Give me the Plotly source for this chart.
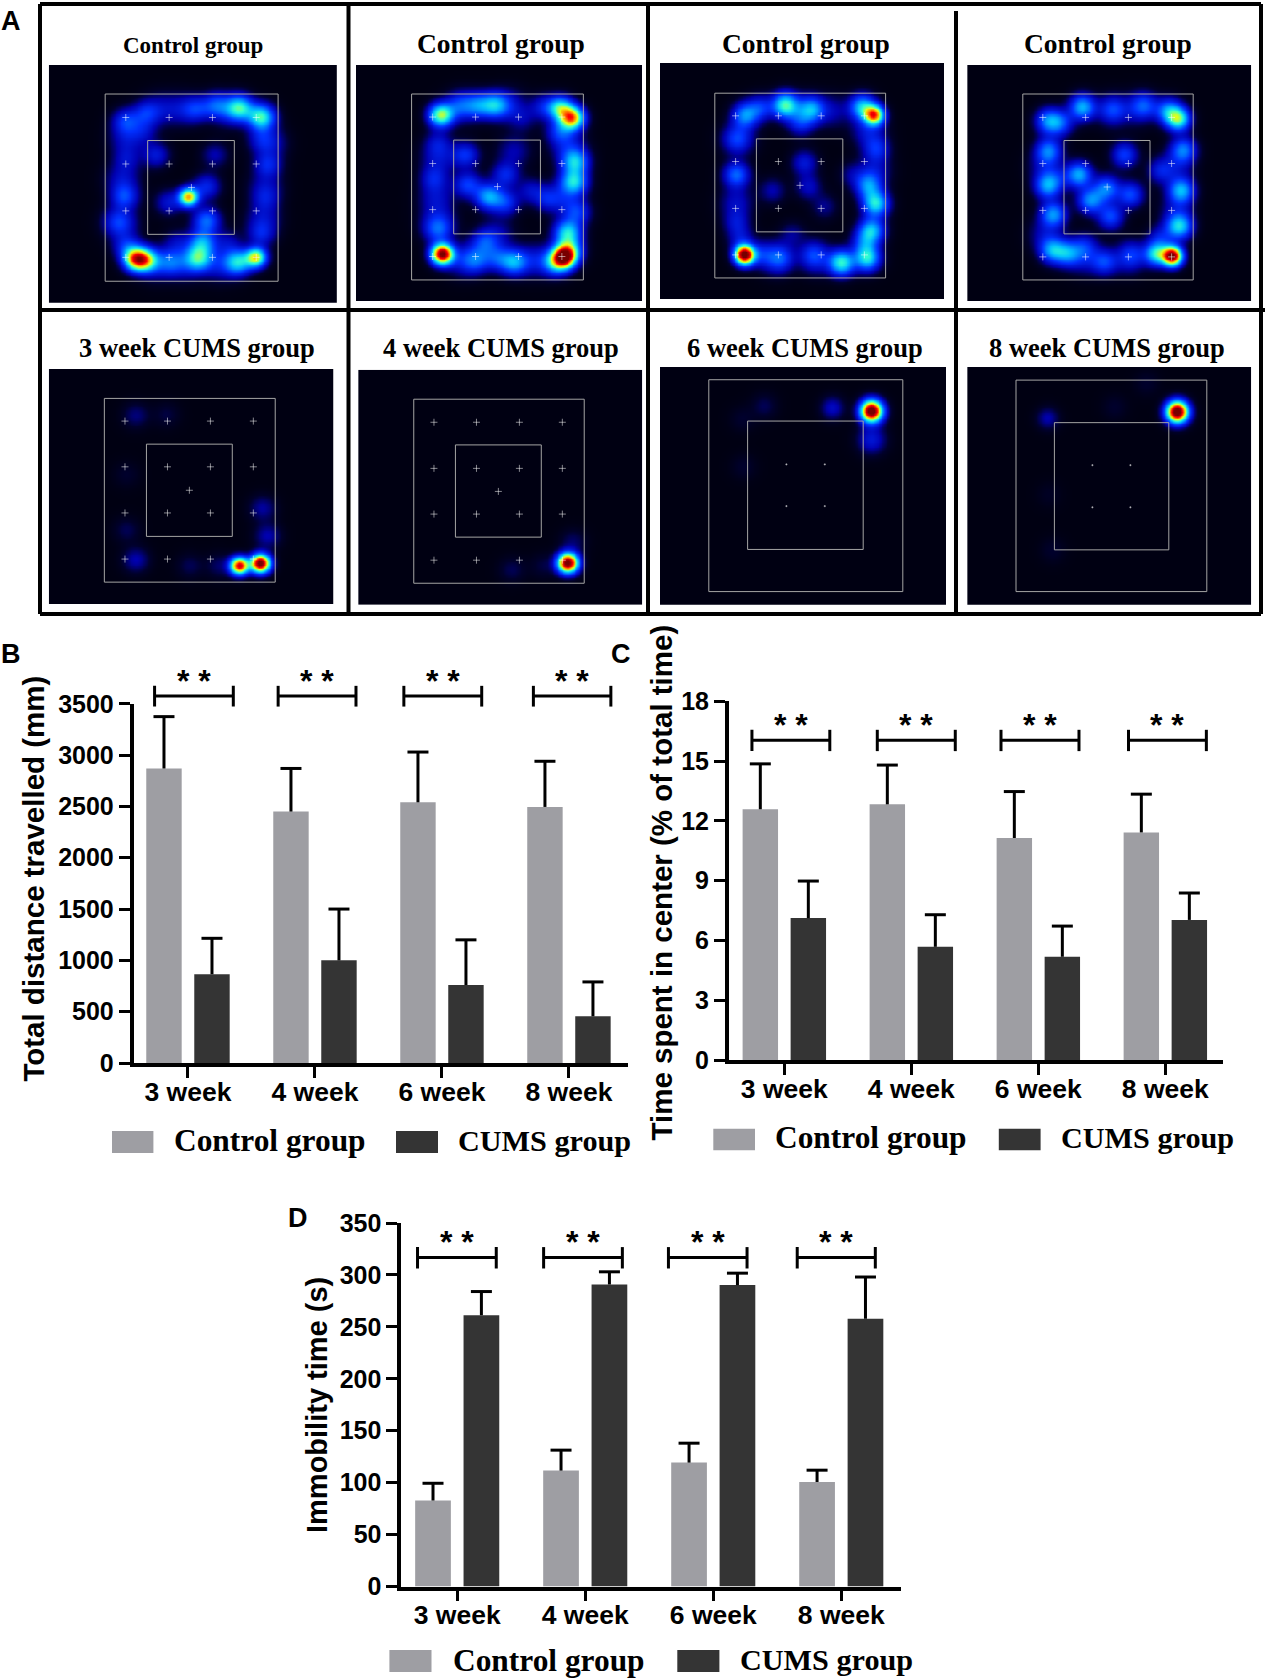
import numpy as np
import plotly.graph_objects as go

W, H = 1267, 1679
WEEKS = ["3 week", "4 week", "6 week", "8 week"]
GROUP_POS = [0, 1, 2, 3]

B_CONTROL = [2870, 2450, 2540, 2495]
B_CONTROL_TOP = [3375, 2870, 3030, 2940]
B_CUMS = [865, 1000, 760, 455]
B_CUMS_TOP = [1215, 1500, 1200, 790]
B_TICKS = [0, 500, 1000, 1500, 2000, 2500, 3000, 3500]

C_CONTROL = [12.58, 12.83, 11.14, 11.42]
C_CONTROL_TOP = [14.86, 14.8, 13.47, 13.34]
C_CUMS = [7.12, 5.68, 5.18, 7.03]
C_CUMS_TOP = [8.98, 7.29, 6.72, 8.38]
C_TICKS = [0, 3, 6, 9, 12, 15, 18]

D_CONTROL = [82.7, 111.6, 119.3, 100.7]
D_CONTROL_TOP = [99.4, 131.3, 138, 112]
D_CUMS = [261.2, 290.8, 290.2, 257.7]
D_CUMS_TOP = [284, 303, 301.7, 298]
D_TICKS = [0, 50, 100, 150, 200, 250, 300, 350]

# significance brackets: left/right offset from each group's tick
B_BR_L = [-0.263, -0.29, -0.30, -0.28]
B_BR_R = [0.357, 0.323, 0.313, 0.33]
C_BR_L = [-0.255, -0.268, -0.294, -0.29]
C_BR_R = [0.358, 0.346, 0.32, 0.323]
D_BR_L = [-0.31, -0.325, -0.35, -0.344]
D_BR_R = [0.305, 0.29, 0.264, 0.266]
B_BR_Y = [3473, 3577, 3675]
C_BR_Y = [15.5, 16.05, 16.57]
D_BR_Y = [306.2, 316.9, 326.8]

# panel A heat-map readings: hotspot x, y, intensity, optional spread
P1 = [(322,652,.72,20),(348,655,.42,20),(608,648,.62,17),(447,496,.7,16),(620,295,.5),(568,272,.45),(512,265,.22),
      (465,275,.18),(298,305,.2),(345,285,.17),(565,660,.42),(470,650,.42),(490,555,.28),(480,610,.32),(405,660,.2),
      (295,495,.22),(300,620,.18),(370,390,.15),(510,390,.1),(635,415,.17),(400,510,.14),(490,470,.18),(300,400,.1),
      (620,590,.15),(630,500,.1),(540,610,.1),(280,560,.1),(420,610,.1),(340,330,.1),(620,350,.1),
      (300,350,.12,28),(290,450,.12,28),(285,560,.14,28),(640,360,.12,28),(630,470,.1,28),(625,550,.12,28),
      (380,275,.1,28),(430,275,.1,28),(540,280,.1,28),(370,665,.12,28),(440,665,.12,28),(520,665,.14,28)]
P2 = [(1047,290,.58,20),(1330,272,.45,20),(1358,297,.72,20),(1050,640,1.0,18),(1340,648,.72,19),(1320,660,.4),(1350,630,.4),(1175,265,.35),
      (1135,265,.25),(1365,408,.38),(1362,458,.42),(1348,585,.42),(1370,535,.2),(1160,495,.35),(1220,660,.35),(1105,390,.2),
      (1110,465,.22),(1200,440,.18),(1200,510,.2),(1150,610,.2),(1040,580,.18),(1030,450,.15),(1040,360,.12),(1130,655,.22),
      (1180,650,.2),(1300,500,.15),(1260,480,.12),(1330,330,.2),(1290,270,.15),(1240,300,.08),(1090,265,.15),
      (1040,400,.12,28),(1035,500,.12,28),(1040,560,.14,28),(1350,370,.14,28),(1340,500,.12,28),(1210,265,.12,28),
      (1100,270,.1,28),(1100,655,.14,28),(1270,655,.14,28),(1180,590,.1,28),(1220,380,.1,28)]
P3 = [(260,642,1.05,17),(585,290,.72,17),(555,270,.4),(362,265,.5),(262,290,.32),(300,272,.2),(428,275,.3),(240,440,.28),
      (570,468,.3),(588,513,.45),(578,580,.38),(567,650,.45),(503,662,.48),(590,375,.18),(400,310,.15),(410,410,.15),
      (420,470,.12),(330,480,.1),(350,650,.15),(430,640,.12),(240,560,.12),(250,600,.12),(300,640,.15),(560,610,.2),
      (380,590,.08),(460,520,.08),(530,440,.08),(240,350,.1),
      (245,350,.14,28),(240,510,.12,28),(585,430,.12,28),(570,330,.14,28),(340,650,.14,28),(440,650,.14,28),(410,280,.1,28),(480,280,.1,28)]
P4 = [(1330,645,1.0,17),(1290,640,.45,20),(1345,300,.5,20),(1320,280,.32),(1105,270,.38),(1020,305,.3),(1050,310,.22),(1020,380,.3),
      (1018,468,.33),(1032,540,.34),(1030,630,.34),(1068,638,.3),(1096,440,.37),(1125,505,.32),(1165,475,.3),(1225,490,.24),
      (1175,545,.24),(1357,378,.3),(1352,480,.38),(1347,570,.42),(1160,660,.22),(1210,390,.22),(1300,430,.15),(1260,265,.2),
      (1180,275,.14),(1300,600,.15),(1110,620,.15),(1230,640,.12),(1040,450,.1),
      (1180,280,.1,28),(1240,275,.1,28),(1010,420,.1,28),(1010,590,.1,28),(1340,420,.1,28),(1340,530,.1,28),(1110,650,.12,28),(1220,650,.12,28)]
P5 = [(618,1424,1.05,16),(568,1430,.9,15),(322,1415,.1,22),(322,1052,.07),(395,1050,.04),(623,1285,.09),(635,1355,.1),
      (300,1200,.03),(300,1340,.05),(450,1430,.05),(520,1430,.06)]
P6 = [(1348,1423,1.05,17),(1215,1440,.05),(1290,1430,.04),(1360,1370,.06)]
P7 = [(578,1040,1.1,19),(578,1112,.15,24),(480,1032,.12,20),(310,1027,.05),(258,1180,.03),(255,1060,.03)]
P8 = [(1342,1042,1.1,19),(1018,1058,.1,19),(1030,1390,.03),(1020,1250,.02),(1265,970,.03),(1185,1030,.03)]
PANEL_SPOTS = [P1, P2, P3, P4, P5, P6, P7, P8]
PANEL_TITLES = ["Control group"] * 4 + ["3 week CUMS group", "4 week CUMS group", "6 week CUMS group", "8 week CUMS group"]

# crop-reading ranges of each panel [x0,x1,y0,y1] and where it sits on the page
PANEL_RANGE = [(116,801,165,763),(846,1526,165,760),(50,760,160,755),(818,1528,165,760),
               (116,792,936,1527),(851,1526,938,1529),(50,765,930,1528),(818,1528,930,1528)]
PANEL_PAGE = [(48.8,337,65,302.7),(356,642.3,65,301.4),(660,944,63,299.4),(967.2,1251.2,65,301.4),
              (48.8,333.3,369,604),(358.2,642.3,369.8,604.7),(660,946,367,604.7),(967.2,1251.2,367,604.7)]
OUTER = [(250,661,238,709),(978,1386,238,706),(187,614,236,701),(957,1383,238,706),
         (248,654,1010,1472),(983,1388,1012,1475),(172,657,962,1495),(940,1417,963,1495)]
INNER = [(351,557,355,591),(1078,1284,354,590),(291,507,351,585),(1060,1275,355,590),
         (348,552,1125,1357),(1082,1286,1127,1359),(269,558,1066,1389),(1036,1322,1070,1390)]
CROSS_X = [[299,402,505,609],[1028,1130,1232,1335],[239,346,453,561],[1007,1114,1221,1329],
           [297,398,500,602],[1031,1132,1234,1336],[366,462],[1131,1226]]
CROSS_Y = [[297,414,532,649],[296,413,529,647],[293,408,526,643],[297,413,531,648],
           [1067,1182,1298,1414],[1070,1186,1301,1417],[1175,1280],[1177,1283]]
CENTER = [(455,473),(1182,471),(400,468),(1168,472),(450,1241),(1184,1244),None,None]

GREY, DARK = "#9e9ea3", "#343434"
SANS, SERIF = "Liberation Sans", "Liberation Serif"
JET = [[0, "#000012"], [0.03, "#00002c"], [0.1, "#0000b0"], [0.22, "#0030ff"], [0.4, "#00c0ff"], [0.5, "#30ffd0"],
       [0.64, "#e8ff10"], [0.74, "#ff9000"], [0.84, "#ff0000"], [1, "#780000"]]

def px(x): return x / W
def py(y): return 1 - y / H

fig = go.Figure()
layout = dict(width=W, height=H, autosize=False, margin=dict(l=0, r=0, t=0, b=0), paper_bgcolor="white",
              plot_bgcolor="white", showlegend=False, barmode="group", bargap=0.244, bargroupgap=0.262)
shapes, annos = [], []

def text(x, y, s, family, size, bold=True, xanchor="center", angle=0):
    annos.append(dict(x=px(x), y=py(y), xref="paper", yref="paper", text=s, showarrow=False, textangle=angle,
                      font=dict(family=family, size=size, color="black", weight=700 if bold else 400),
                      xanchor=xanchor, yanchor="middle"))

for i, spots in enumerate(PANEL_SPOTS):
    n = i + 1
    cx0, cx1, cy0, cy1 = PANEL_RANGE[i]
    gx = np.arange(cx0, cx1 + 4, 4.0)
    gy = np.arange(cy0, cy1 + 4, 4.0)
    X, Y = np.meshgrid(gx, gy)
    Z = np.zeros_like(X)
    for sp in spots:
        s = sp[3] if len(sp) > 3 else 22
        Z += sp[2] * np.exp(-((X - sp[0]) ** 2 + (Y - sp[1]) ** 2) / (2 * s * s))
    Z = np.clip(Z, 0, 1).round(3)
    fig.add_trace(go.Heatmap(x=gx, y=gy, z=Z, zmin=0, zmax=1, colorscale=JET, showscale=False, zsmooth="best",
                             hoverinfo="skip", xaxis=f"x{n}", yaxis=f"y{n}"))
    xs = [x for _ in CROSS_Y[i] for x in CROSS_X[i]]
    ys = [y for y in CROSS_Y[i] for _ in CROSS_X[i]]
    if CENTER[i]:
        xs.append(CENTER[i][0]); ys.append(CENTER[i][1])
    size = 5 if CENTER[i] else 1.5
    fig.add_trace(go.Scatter(x=xs, y=ys, mode="markers", hoverinfo="skip", xaxis=f"x{n}", yaxis=f"y{n}",
                             marker=dict(symbol="cross-thin", size=size, line=dict(color="rgba(255,255,255,0.75)", width=0.7))))
    p = PANEL_PAGE[i]
    layout[f"xaxis{n}"] = dict(domain=[px(p[0]), px(p[1])], range=[cx0, cx1], visible=False, anchor=f"y{n}")
    layout[f"yaxis{n}"] = dict(domain=[py(p[3]), py(p[2])], range=[cy1, cy0], visible=False, anchor=f"x{n}")
    for box in (OUTER[i], INNER[i]):
        shapes.append(dict(type="rect", xref=f"x{n}", yref=f"y{n}", x0=box[0], x1=box[1], y0=box[2], y1=box[3],
                           line=dict(color="#a4a4a4", width=1)))

TITLE_POS = [(193, 45.7, 23), (501, 43.7, 27.5), (806, 43.7, 27.5), (1108, 43.7, 27.5),
             (196.5, 348, 26.5), (500.5, 348, 26.5), (805, 348, 26.5), (1107, 348, 26.5)]
for t, (x, y, s) in zip(PANEL_TITLES, TITLE_POS):
    text(x, y, t, SERIF, s)

# panel frame
for x0, y0, x1, y1 in [(40, 4, 1261, 4), (40, 614, 1261, 614), (40, 4, 40, 614), (1261, 4, 1261, 614), (40, 310, 1265, 310),
                       (348.5, 4, 348.5, 614), (648, 4, 648, 614), (956, 11, 956, 614)]:
    shapes.append(dict(type="line", xref="paper", yref="paper", x0=px(x0), x1=px(x1), y0=py(y0), y1=py(y1),
                       line=dict(color="black", width=4)))

CHARTS = [
    dict(n=9, ctrl=B_CONTROL, ctop=B_CONTROL_TOP, cums=B_CUMS, utop=B_CUMS_TOP, ticks=B_TICKS, L=B_BR_L, R=B_BR_R, by=B_BR_Y,
         xd=(133.5, 628), yd=(703.8, 1063), xr=(-0.429, 3.465), yr=(0, 3500), title="Total distance travelled (mm)", tx=34, ty=878.6, ts=29.5),
    dict(n=10, ctrl=C_CONTROL, ctop=C_CONTROL_TOP, cums=C_CUMS, utop=C_CUMS_TOP, ticks=C_TICKS, L=C_BR_L, R=C_BR_R, by=C_BR_Y,
         xd=(728.7, 1223), yd=(701.3, 1060), xr=(-0.438, 3.454), yr=(0, 18), title="Time spent in center (% of total time)", tx=661, ty=882.5, ts=29.5),
    dict(n=11, ctrl=D_CONTROL, ctop=D_CONTROL_TOP, cums=D_CUMS, utop=D_CUMS_TOP, ticks=D_TICKS, L=D_BR_L, R=D_BR_R, by=D_BR_Y,
         xd=(401.2, 900.8), yd=(1223, 1586.5), xr=(-0.4375, 3.465), yr=(0, 350), title="Immobility time (s)", tx=317, ty=1405, ts=29),
]
AX = dict(showgrid=False, zeroline=False, showline=True, linecolor="black", linewidth=3.5, ticks="outside",
          tickcolor="black", tickwidth=3, ticklen=11, automargin=False)
OFFSET = 0.189
for c in CHARTS:
    n = c["n"]
    ytop_paper, ybot_paper = py(c["yd"][0]), py(c["yd"][1])
    yr0, yr1 = c["yr"]
    def val_to_paper(v):
        return ybot_paper + (v - yr0) / (yr1 - yr0) * (ytop_paper - ybot_paper)
    for name, vals, top, col, sign in (("Control group", c["ctrl"], c["ctop"], GREY, -1), ("CUMS group", c["cums"], c["utop"], DARK, 1)):
        fig.add_trace(go.Bar(x=GROUP_POS, y=vals, name=name, marker=dict(color=col, line=dict(width=0)),
                             xaxis=f"x{n}", yaxis=f"y{n}", offsetgroup=name,
                             error_y=dict(type="data", symmetric=False, array=[t - v for t, v in zip(top, vals)],
                                          arrayminus=[0, 0, 0, 0], color="black", thickness=3, width=0)))
        fig.add_trace(go.Scatter(x=[g + sign * OFFSET for g in GROUP_POS], y=top, mode="markers", hoverinfo="skip",
                                 cliponaxis=False, xaxis=f"x{n}", yaxis=f"y{n}",
                                 marker=dict(symbol="line-ew", size=15, line=dict(color="black", width=3))))
    lo, mid, hi = c["by"]
    for g, l, r in zip(GROUP_POS, c["L"], c["R"]):
        a, b = g + l, g + r
        for seg in ((a, a, lo, hi), (b, b, lo, hi), (a, b, mid, mid)):
            shapes.append(dict(type="line", xref=f"x{n}", yref="paper", x0=seg[0], x1=seg[1], y0=val_to_paper(seg[2]), y1=val_to_paper(seg[3]),
                               line=dict(color="black", width=3)))
        annos.append(dict(x=(a + b) / 2, y=val_to_paper(hi), xref=f"x{n}", yref="paper", text="* *", showarrow=False, yanchor="bottom",
                          yshift=-15, font=dict(family=SANS, size=32, color="black", weight=700)))
    layout[f"xaxis{n}"] = dict(AX, domain=[px(c["xd"][0]), px(c["xd"][1])], range=list(c["xr"]), anchor=f"y{n}",
                               tickmode="array", tickvals=GROUP_POS, ticktext=WEEKS, ticklabelstandoff=-9,
                               tickfont=dict(family=SANS, size=26.5, color="black", weight=700))
    layout[f"yaxis{n}"] = dict(AX, domain=[py(c["yd"][1]), py(c["yd"][0])], range=list(c["yr"]), anchor=f"x{n}",
                               tickmode="array", tickvals=c["ticks"],
                               tickfont=dict(family=SANS, size=25, color="black", weight=700))
    text(c["tx"], c["ty"], c["title"], SANS, c["ts"], angle=-90)

# legends: swatches and labels
LEG = [((112, 153.4, 396, 438), (1131, 1153), (172, 456), 1140.5),
       ((713.3, 755, 998.8, 1040.6), (1128.8, 1150.3), (773.4, 1059.4), 1137.5),
       ((389.4, 431.5, 677.3, 719.4), (1650, 1672), (450.6, 738), 1660)]
for (a, b, c2, d), (t, bt), (tx1, tx2), ty in LEG:
    for x0, x1, col in ((a, b, GREY), (c2, d, DARK)):
        shapes.append(dict(type="rect", xref="paper", yref="paper", x0=px(x0), x1=px(x1), y0=py(bt), y1=py(t),
                           fillcolor=col, line=dict(width=0)))
    text(tx1, ty, "Control group", SERIF, 31.4, xanchor="left")
    text(tx2, ty, "CUMS group", SERIF, 30.2, xanchor="left")

for s, x, y in (("A", 11, 21), ("B", 11, 654), ("C", 621, 654), ("D", 298, 1218)):
    text(x, y, s, SANS, 27)

layout["shapes"] = shapes
layout["annotations"] = annos
fig.update_layout(**layout)
fig.write_html("out.html", config=dict(displayModeBar=False), post_script="document.body.style.margin='0';")
